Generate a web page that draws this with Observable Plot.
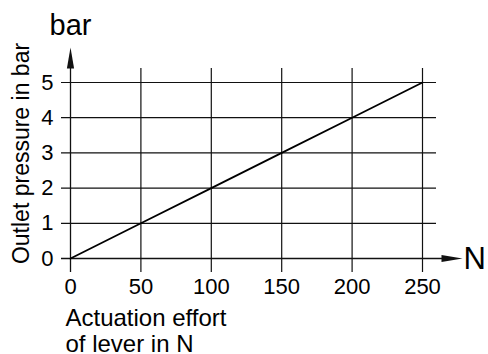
<!DOCTYPE html>
<html>
<head>
<meta charset="utf-8">
<script src="https://cdn.jsdelivr.net/npm/d3@7"></script>
<script src="https://cdn.jsdelivr.net/npm/@observablehq/plot@0.6"></script>
<style>
  html, body { margin: 0; padding: 0; background: #fff; }
  #chart svg { display: block; }
</style>
</head>
<body>
<div id="chart"></div>
<script>
// Data
const effort = [0, 50, 100, 150, 200, 250];      // N
const pressure = [0, 1, 2, 3, 4, 5];             // bar
const xTicks = [0, 50, 100, 150, 200, 250];
const yTicks = [0, 1, 2, 3, 4, 5];
const xUnit = "N";
const yUnit = "bar";
const yTitle = "Outlet pressure in bar";
const xTitle = "Actuation effort\nof lever in N";

const data = effort.map((e, i) => ({effort: e, pressure: pressure[i]}));

// filled, slender arrowhead; tip at origin, body extends downward
const arrowHead = {
  draw(context) {
    context.moveTo(0, 0);
    context.lineTo(-3.6, 21);
    context.lineTo(3.6, 21);
    context.closePath();
  }
};

const font = "'Liberation Sans', Arial, Helvetica, sans-serif";
const ink = "#111";

const chart = Plot.plot({
  width: 488,
  height: 354,
  marginLeft: 70,
  marginRight: 66,
  marginTop: 82,
  marginBottom: 96,
  style: {fontFamily: font, fontSize: "22px", color: "#000", background: "#fff"},
  x: {domain: [0, 250], ticks: xTicks, label: null},
  y: {domain: [0, 5], ticks: yTicks, label: null},
  marks: [
    // horizontal grid lines
    Plot.ruleY(yTicks.filter(d => d !== 0), {stroke: ink, strokeWidth: 1.2, insetLeft: -9, insetRight: -14}),
    // vertical grid lines
    Plot.ruleX(xTicks.filter(d => d !== 0), {stroke: ink, strokeWidth: 1.2, insetTop: -14, insetBottom: -14}),
    // x axis line (extends to arrowhead)
    Plot.ruleY([0], {stroke: ink, strokeWidth: 1.3, insetLeft: -9, insetRight: -20}),
    // y axis line
    Plot.ruleX([0], {stroke: ink, strokeWidth: 1.3, insetTop: -18, insetBottom: -14}),
    // arrowheads
    Plot.dot([0], {x: 0, y: 5, dy: -35, symbol: arrowHead, r: 5, fill: ink, stroke: "none"}),
    Plot.dot([0], {x: 250, y: 0, dx: 40, symbol: arrowHead, r: 5, fill: ink, stroke: "none", rotate: 90}),
    // data line
    Plot.line(data, {x: "effort", y: "pressure", stroke: "#000", strokeWidth: 1.8}),
    // tick labels
    Plot.axisX({ticks: xTicks, tickFormat: "d", tickSize: 0, tickPadding: 20, label: null, fontSize: 22, fill: "#000"}),
    Plot.axisY({ticks: yTicks, tickFormat: "d", tickSize: 0, tickPadding: 17, label: null, fontSize: 22, fill: "#000"}),
    // unit labels
    Plot.text([yUnit], {frameAnchor: "top-left", dy: -48, textAnchor: "middle", lineAnchor: "bottom", fontSize: 29, fill: "#000"}),
    Plot.text([xUnit], {frameAnchor: "bottom-right", dx: 41, dy: 10, textAnchor: "start", lineAnchor: "bottom", fontSize: 31, fill: "#000"}),
    // axis titles
    Plot.text([yTitle], {frameAnchor: "left", dx: -49, dy: -17, rotate: -90, textAnchor: "middle", lineAnchor: "middle", fontSize: 23, fill: "#000"}),
    Plot.text([xTitle], {frameAnchor: "bottom-left", dx: -5, dy: 93, textAnchor: "start", lineAnchor: "bottom", lineHeight: 1.06, fontSize: 24, fill: "#000"})
  ]
});
document.getElementById("chart").appendChild(chart);
</script>
</body>
</html>
